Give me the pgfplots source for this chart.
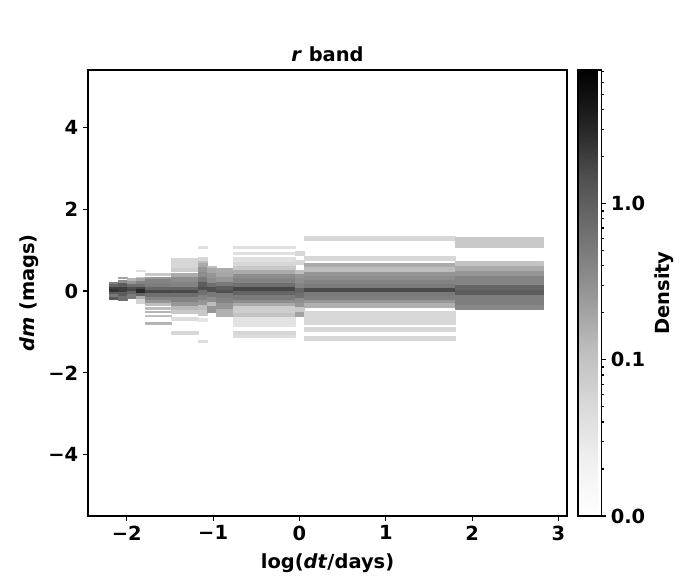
\documentclass[border=0pt]{standalone}
\usepackage{fontspec}
\setmainfont{DejaVu Sans}
\usepackage{pgfplots}
\usepackage{pgfplotstable}
\pgfplotsset{compat=1.18}
\usepgfplotslibrary{patchplots}

% one row per histogram cell: dt-bin edges, dm-bin edges, density
\pgfplotstableread{
x0 x1 y0 y1 d
-2.209 -2.104 0.163 0.227 0.44
-2.209 -2.104 0.105 0.163 0.87
-2.209 -2.104 0.041 0.105 2.0
-2.209 -2.104 -0.032 0.041 2.5
-2.209 -2.104 -0.080 -0.032 1.05
-2.209 -2.104 -0.139 -0.080 0.52
-2.209 -2.104 -0.202 -0.154 1.2
-2.104 -2.0 0.310 0.341 0.21
-2.104 -2.0 0.195 0.268 0.33
-2.104 -2.0 0.098 0.195 1.05
-2.104 -2.0 -0.024 0.098 2.0
-2.104 -2.0 -0.122 -0.024 1.05
-2.104 -2.0 -0.220 -0.122 0.68
-2.0 -1.896 0.244 0.324 0.14
-2.0 -1.896 0.163 0.244 0.27
-2.0 -1.896 0.105 0.163 0.68
-2.0 -1.896 0.049 0.105 1.45
-2.0 -1.896 0.0 0.049 1.7
-2.0 -1.896 -0.080 0.0 0.87
-2.0 -1.896 -0.178 -0.080 0.52
-1.896 -1.791 0.495 0.520 0.045
-1.896 -1.791 0.310 0.349 0.085
-1.896 -1.791 0.244 0.310 0.21
-1.896 -1.791 0.163 0.244 0.42
-1.896 -1.791 0.090 0.163 0.68
-1.896 -1.791 0.041 0.090 1.7
-1.896 -1.791 -0.041 0.041 3.0
-1.896 -1.791 -0.115 -0.041 0.87
-1.896 -1.791 -0.202 -0.115 0.17
-1.896 -1.791 -0.300 -0.202 0.062
-1.791 -1.49 0.398 0.446 0.085
-1.791 -1.49 0.285 0.349 0.27
-1.791 -1.49 0.188 0.285 0.42
-1.791 -1.49 0.105 0.188 0.47
-1.791 -1.49 0.024 0.105 0.87
-1.791 -1.49 -0.056 0.024 1.7
-1.791 -1.49 -0.139 -0.056 0.68
-1.791 -1.49 -0.220 -0.139 0.42
-1.791 -1.49 -0.300 -0.220 0.27
-1.791 -1.49 -0.341 -0.300 0.115
-1.791 -1.49 -0.439 -0.407 0.115
-1.791 -1.49 -0.529 -0.488 0.14
-1.791 -1.49 -0.627 -0.585 0.115
-1.791 -1.49 -0.805 -0.763 0.14
-1.49 -1.176 0.554 0.812 0.055
-1.49 -1.176 0.488 0.554 0.072
-1.49 -1.176 0.349 0.446 0.17
-1.49 -1.176 0.227 0.349 0.33
-1.49 -1.176 0.105 0.227 0.42
-1.49 -1.176 0.024 0.105 0.87
-1.49 -1.176 -0.056 0.024 1.6
-1.49 -1.176 -0.139 -0.056 0.68
-1.49 -1.176 -0.261 -0.139 0.42
-1.49 -1.176 -0.383 -0.261 0.27
-1.49 -1.176 -0.463 -0.383 0.125
-1.49 -1.176 -0.544 -0.463 0.085
-1.49 -1.176 -0.707 -0.651 0.045
-1.49 -1.176 -1.049 -0.976 0.055
-1.176 -1.072 1.041 1.105 0.04
-1.176 -1.072 0.739 0.822 0.055
-1.176 -1.072 0.676 0.739 0.115
-1.176 -1.072 0.593 0.676 0.17
-1.176 -1.072 0.471 0.593 0.27
-1.176 -1.072 0.349 0.471 0.33
-1.176 -1.072 0.227 0.349 0.52
-1.176 -1.072 0.105 0.227 1.05
-1.176 -1.072 0.024 0.105 1.45
-1.176 -1.072 -0.098 0.024 0.68
-1.176 -1.072 -0.220 -0.098 0.42
-1.176 -1.072 -0.341 -0.220 0.27
-1.176 -1.072 -0.463 -0.341 0.115
-1.176 -1.072 -0.585 -0.463 0.085
-1.176 -1.072 -0.749 -0.666 0.033
-1.176 -1.072 -1.261 -1.195 0.045
-1.072 -0.967 0.554 0.610 0.115
-1.072 -0.967 0.432 0.554 0.19
-1.072 -0.967 0.310 0.432 0.27
-1.072 -0.967 0.188 0.310 0.33
-1.072 -0.967 0.105 0.188 0.68
-1.072 -0.967 -0.017 0.105 1.45
-1.072 -0.967 -0.139 -0.017 0.52
-1.072 -0.967 -0.261 -0.139 0.33
-1.072 -0.967 -0.383 -0.261 0.115
-1.072 -0.967 -0.520 -0.383 0.27
-0.967 -0.770 0.456 0.554 0.17
-0.967 -0.770 0.349 0.456 0.19
-0.967 -0.770 0.227 0.349 0.27
-0.967 -0.770 0.129 0.227 0.52
-0.967 -0.770 0.024 0.129 1.05
-0.967 -0.770 -0.056 0.024 1.45
-0.967 -0.770 -0.178 -0.056 0.52
-0.967 -0.770 -0.300 -0.178 0.42
-0.967 -0.770 -0.439 -0.300 0.27
-0.967 -0.770 -0.610 -0.439 0.155
-0.770 -0.051 1.041 1.098 0.04
-0.770 -0.051 0.895 0.944 0.04
-0.770 -0.051 0.700 0.822 0.04
-0.770 -0.051 0.610 0.700 0.055
-0.770 -0.051 0.512 0.610 0.085
-0.770 -0.051 0.407 0.512 0.17
-0.770 -0.051 0.310 0.407 0.33
-0.770 -0.051 0.188 0.310 0.42
-0.770 -0.051 0.105 0.188 0.68
-0.770 -0.051 0.0 0.105 1.7
-0.770 -0.051 -0.098 0.0 0.87
-0.770 -0.051 -0.220 -0.098 0.52
-0.770 -0.051 -0.300 -0.220 0.33
-0.770 -0.051 -0.383 -0.300 0.17
-0.770 -0.051 -0.544 -0.383 0.072
-0.770 -0.051 -0.651 -0.544 0.10
-0.770 -0.051 -0.871 -0.651 0.036
-0.770 -0.051 -1.049 -0.993 0.055
-0.770 -0.051 -1.129 -1.073 0.045
-0.051 0.053 0.878 0.976 0.055
-0.051 0.053 0.651 0.756 0.055
-0.051 0.053 0.407 0.512 0.115
-0.051 0.053 0.310 0.407 0.27
-0.051 0.053 0.188 0.310 0.33
-0.051 0.053 0.066 0.188 0.42
-0.051 0.053 -0.056 0.066 0.87
-0.051 0.053 -0.178 -0.056 0.68
-0.051 0.053 -0.300 -0.178 0.33
-0.051 0.053 -0.407 -0.300 0.27
-0.051 0.053 -0.520 -0.407 0.085
-0.051 0.053 -0.627 -0.520 0.21
0.053 1.805 1.244 1.341 0.055
0.053 1.805 0.756 0.854 0.055
0.053 1.805 0.578 0.676 0.17
0.053 1.805 0.471 0.578 0.115
0.053 1.805 0.366 0.471 0.27
0.053 1.805 0.268 0.366 0.33
0.053 1.805 0.171 0.268 0.42
0.053 1.805 0.080 0.171 0.52
0.053 1.805 -0.032 0.080 1.6
0.053 1.805 -0.122 -0.032 0.52
0.053 1.805 -0.220 -0.122 0.47
0.053 1.805 -0.300 -0.220 0.27
0.053 1.805 -0.398 -0.300 0.155
0.053 1.805 -0.805 -0.505 0.055
0.053 1.805 -0.993 -0.895 0.055
0.053 1.805 -1.212 -1.115 0.055
1.805 2.826 1.080 1.324 0.085
1.805 2.826 0.610 0.739 0.10
1.805 2.826 0.488 0.610 0.17
1.805 2.826 0.366 0.488 0.27
1.805 2.826 0.146 0.366 0.42
1.805 2.826 0.024 0.146 0.87
1.805 2.826 -0.098 0.024 1.05
1.805 2.826 -0.341 -0.098 0.47
1.805 2.826 -0.439 -0.341 0.38
}\cells

\newcommand{\mplfont}{\bfseries\fontsize{14}{17}\selectfont}

\pgfplotsset{
  every axis/.append style={
    font=\mplfont,
    tick label style={font=\mplfont},
    label style={font=\mplfont},
    title style={font=\mplfont},
    axis line style={line width=0.8pt},
    every tick/.style={black, line width=0.8pt},
    tick align=outside,
    major tick length=3.5pt,
    minor tick length=2pt,
  },
}

\begin{document}
\begin{tikzpicture}
\useasboundingbox (-63.36pt,-46.08pt) rectangle (440.64pt,371.52pt);
\pgfplotstablegetrowsof{\cells}
\pgfmathtruncatemacro{\nlast}{\pgfplotsretval-1}
\begin{axis}[
  at={(0,0)}, anchor=south west,
  scale only axis, width=344.9pt, height=321.1pt,
  xmin=-2.45, xmax=3.1, ymin=-5.5, ymax=5.4,
  tick pos=left,
  xtick={-2,-1,0,1,2,3}, xticklabels={−2,−1,0,1,2,3},
  ytick={-4,-2,0,2,4}, yticklabels={−4,−2,0,2,4},
  title={\textit{r} band},
  title style={yshift=-3.6pt},
  xlabel={log(\textit{dt}/days)},
  xlabel style={yshift=-3pt},
  ylabel={\textit{dm} (mags)},
  colormap={greys}{rgb255=(255,255,255) rgb255=(240,240,240) rgb255=(217,217,217)
    rgb255=(189,189,189) rgb255=(150,150,150) rgb255=(115,115,115)
    rgb255=(82,82,82) rgb255=(37,37,37) rgb255=(0,0,0)},
  point meta min=-2, point meta max=0.857,
  colorbar,
  colorbar style={
    at={(parent axis.north east)}, anchor=north west, xshift=-0.64pt,
    scale only axis, width=16.6pt, height=321.1pt,
    ytick={-2,-1,0}, yticklabels={0.0,0.1,1.0},
    minor ytick={-1.699,-1.5229,-1.3979,-1.3010,-1.2218,-1.1549,-1.0969,-1.0458,
      -0.699,-0.5229,-0.3979,-0.3010,-0.2218,-0.1549,-0.0969,-0.0458,
      0.30103,0.47712,0.60206,0.69897,0.77815,0.8451},
    ytick pos=right, yticklabel pos=right,
    ylabel={Density}, ylabel near ticks,
  },
]
\pgfplotsforeachungrouped \i in {0,...,\nlast}{%
  \pgfplotstablegetelem{\i}{x0}\of\cells \let\xa\pgfplotsretval
  \pgfplotstablegetelem{\i}{x1}\of\cells \let\xb\pgfplotsretval
  \pgfplotstablegetelem{\i}{y0}\of\cells \let\ya\pgfplotsretval
  \pgfplotstablegetelem{\i}{y1}\of\cells \let\yb\pgfplotsretval
  \pgfplotstablegetelem{\i}{d}\of\cells \let\dd\pgfplotsretval
  \pgfmathsetmacro{\m}{log10(\dd)}%
  \edef\cmd{\noexpand\addplot[patch, patch type=rectangle, shader=faceted,
    faceted color=mapped color, line width=0.2pt, point meta=explicit, forget plot]
    coordinates {(\xa,\ya) [\m] (\xb,\ya) [\m] (\xb,\yb) [\m] (\xa,\yb) [\m]};}%
  \cmd
}
\end{axis}
\end{tikzpicture}
\end{document}
